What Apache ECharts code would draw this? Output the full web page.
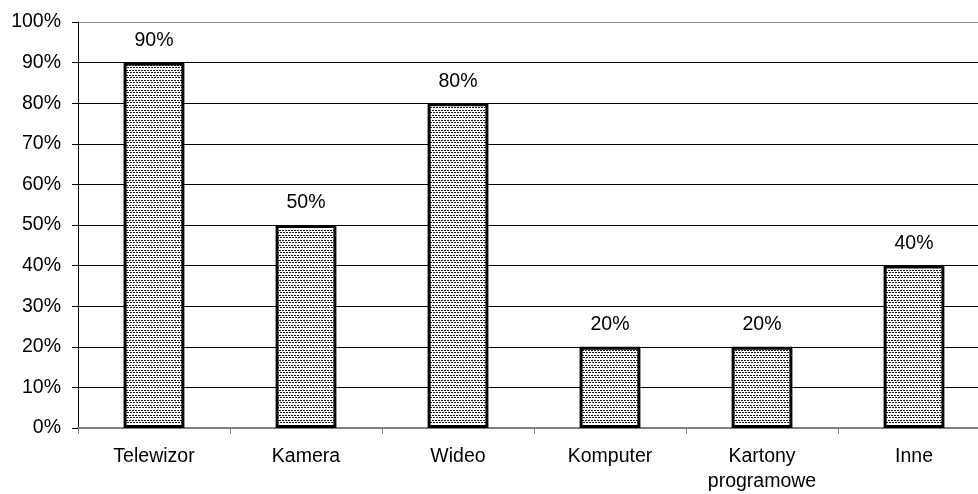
<!DOCTYPE html>
<html>
<head>
<meta charset="utf-8">
<script src="https://cdn.jsdelivr.net/npm/echarts@6/dist/echarts.min.js"></script>
<style>
html,body{margin:0;padding:0;background:#fff;}
#wrap{width:978px;height:494px;overflow:hidden;position:relative;}
#chart{width:990px;height:494px;position:absolute;left:0;top:0;}
</style>
</head>
<body>
<div id="wrap"><div id="chart"></div></div>
<script>
const categories = ['Telewizor', 'Kamera', 'Wideo', 'Komputer', 'Kartony\nprogramowe', 'Inne'];
const values = [90, 50, 80, 20, 20, 40];
const yTicks = [0, 10, 20, 30, 40, 50, 60, 70, 80, 90, 100];

function makePattern() {
  const c = document.createElement('canvas');
  c.width = 6; c.height = 5;
  const ctx = c.getContext('2d');
  ctx.fillStyle = '#ffffff';
  ctx.fillRect(0, 0, 6, 5);
  ctx.fillStyle = '#1a1a1a';
  ctx.fillRect(0, 0, 2, 1);
  ctx.fillRect(3, 0, 2, 1);
  ctx.fillRect(1, 2, 2, 1);
  ctx.fillRect(4, 2, 2, 1);
  return c;
}

const chart = echarts.init(document.getElementById('chart'));
const font = 'Liberation Sans, Arial, sans-serif';
const splitColors = yTicks.map((t, i) => (i === yTicks.length - 1 || i === 0) ? '#888888' : '#000000');

chart.setOption({
  animation: false,
  backgroundColor: '#ffffff',
  grid: { left: 78, top: 22, right: 0, height: 408, containLabel: false },
  xAxis: {
    type: 'category',
    data: categories,
    axisLine: { lineStyle: { color: '#808080', width: 2 } },
    axisTick: { show: true, length: 6, alignWithLabel: false, lineStyle: { color: '#808080', width: 1 } },
    axisLabel: { interval: 0, margin: 16, color: '#000', fontFamily: font, fontSize: 19.5, lineHeight: 25 },
    splitLine: { show: false }
  },
  yAxis: {
    type: 'value',
    min: 0, max: 100, interval: 10,
    axisLine: { show: true, lineStyle: { color: '#000', width: 1 } },
    axisTick: { show: true, length: 6, lineStyle: { color: '#000' } },
    axisLabel: { formatter: '{value}%', color: '#000', fontFamily: font, fontSize: 19.5, margin: 17 },
    splitLine: { show: true, lineStyle: { color: splitColors, width: 1 } }
  },
  series: [{
    type: 'bar',
    data: values,
    barWidth: '40%',
    itemStyle: {
      color: { image: makePattern(), repeat: 'repeat' },
      borderColor: '#000',
      borderWidth: 3
    },
    label: {
      show: true,
      position: 'top',
      distance: 12,
      formatter: '{c}%',
      color: '#000',
      fontFamily: font,
      fontSize: 19.5
    }
  }]
});
</script>
</body>
</html>
